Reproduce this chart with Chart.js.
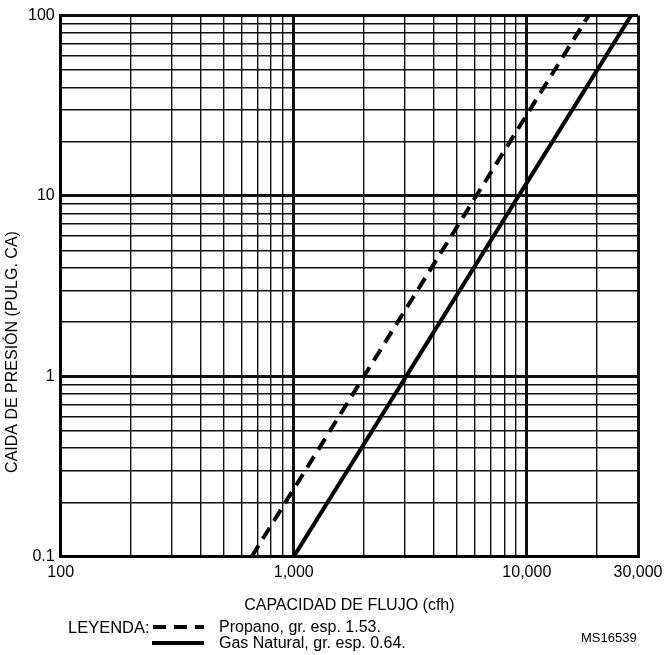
<!DOCTYPE html>
<html lang="es">
<head>
<meta charset="utf-8">
<title>Caida de presion</title>
<script src="https://cdn.jsdelivr.net/npm/chart.js"></script>
<style>
  html, body { margin: 0; padding: 0; background: #fff; }
  canvas { display: block; }
</style>
</head>
<body>
<canvas id="chart" width="666" height="655"></canvas>
<script>
// values
const gasFlow = [1000, 28000];
const gasDrop = [0.1, 100];
const propaneFlow = [660, 18400];
const propaneDrop = [0.1, 100];

// grid lines and tick labels
const xGrid = [100, 200, 300, 400, 500, 600, 700, 800, 900,
               1000, 2000, 3000, 4000, 5000, 6000, 7000, 8000, 9000,
               10000, 20000, 30000];
const yGrid = [0.1, 0.2, 0.3, 0.4, 0.5, 0.6, 0.7, 0.8, 0.9,
               1, 2, 3, 4, 5, 6, 7, 8, 9,
               10, 20, 30, 40, 50, 60, 70, 80, 90, 100];
const xLabels = { 100: '100', 1000: '1,000', 10000: '10,000', 30000: '30,000' };
const yLabels = { 0.1: '0.1', 1: '1', 10: '10', 100: '100' };
const xMajor = [100, 1000, 10000, 30000];
const yMajor = [0.1, 1, 10, 100];

const FONT = 'Liberation Sans, Arial, sans-serif';

function pts(xs, ys) {
  return xs.map((x, i) => ({ x: x, y: ys[i] }));
}

// y title, legend key and drawing number drawn by hand
const extras = {
  id: 'extras',
  afterDraw(chart) {
    const c = chart.ctx;
    c.save();
    c.fillStyle = '#000';
    c.textBaseline = 'middle';

    c.save();
    c.translate(13, 352);
    c.rotate(-Math.PI / 2);
    c.textAlign = 'center';
    c.font = '16px ' + FONT;
    c.fillText('CAIDA DE PRESIÓN (PULG. CA)', 0, 0);
    c.restore();

    c.textAlign = 'left';
    c.font = '16.5px ' + FONT;
    c.fillText('LEYENDA:', 68, 628);
    c.font = '16px ' + FONT;
    c.fillText('Propano, gr. esp. 1.53.', 219, 628);
    c.fillText('Gas Natural, gr. esp. 0.64.', 219, 644);
    c.font = '13px ' + FONT;
    c.fillText('MS16539', 581, 638);

    c.strokeStyle = '#000';
    c.lineWidth = 4;
    c.setLineDash([13, 8]);
    c.beginPath();
    c.moveTo(153, 627);
    c.lineTo(204, 627);
    c.stroke();
    c.setLineDash([]);
    c.beginPath();
    c.moveTo(152, 643);
    c.lineTo(204, 643);
    c.stroke();
    c.restore();
  }
};

new Chart(document.getElementById('chart'), {
  type: 'scatter',
  data: {
    datasets: [{
      label: 'Propano, gr. esp. 1.53.',
      data: pts(propaneFlow, propaneDrop),
      showLine: true,
      borderColor: '#000',
      borderWidth: 4,
      borderDash: [13, 8],
      pointRadius: 0
    }, {
      label: 'Gas Natural, gr. esp. 0.64.',
      data: pts(gasFlow, gasDrop),
      showLine: true,
      borderColor: '#000',
      borderWidth: 4,
      pointRadius: 0
    }]
  },
  options: {
    responsive: false,
    animation: false,
    layout: { padding: { left: 22, top: 8, right: 0, bottom: 40 } },
    plugins: {
      legend: { display: false },
      tooltip: { enabled: false }
    },
    scales: {
      x: {
        type: 'logarithmic',
        min: 100,
        max: 30000,
        afterBuildTicks: s => { s.ticks = xGrid.map(v => ({ value: v })); },
        // let the last label hang a little further out on the right
        afterFit: s => { s.paddingRight = 28; },
        ticks: {
          autoSkip: false,
          maxRotation: 0,
          color: '#000',
          font: { family: FONT, size: 16 },
          padding: 6,
          callback: v => xLabels[v] || ''
        },
        grid: {
          color: '#111',
          drawTicks: false,
          lineWidth: c => (xMajor.includes(c.tick && c.tick.value) ? 3 : 1.4)
        },
        border: { color: '#000', width: 3 },
        title: {
          display: true,
          text: 'CAPACIDAD DE FLUJO (cfh)',
          color: '#000',
          font: { family: FONT, size: 16 },
          padding: { top: 8, bottom: 0 }
        }
      },
      y: {
        type: 'logarithmic',
        min: 0.1,
        max: 100,
        afterBuildTicks: s => { s.ticks = yGrid.map(v => ({ value: v })); },
        ticks: {
          autoSkip: false,
          color: '#000',
          font: { family: FONT, size: 16 },
          padding: 6,
          callback: v => yLabels[v] || ''
        },
        grid: {
          color: '#111',
          drawTicks: false,
          lineWidth: c => (yMajor.includes(c.tick && c.tick.value) ? 3 : 1.4)
        },
        border: { color: '#000', width: 3 }
      }
    }
  },
  plugins: [extras]
});
</script>
</body>
</html>
